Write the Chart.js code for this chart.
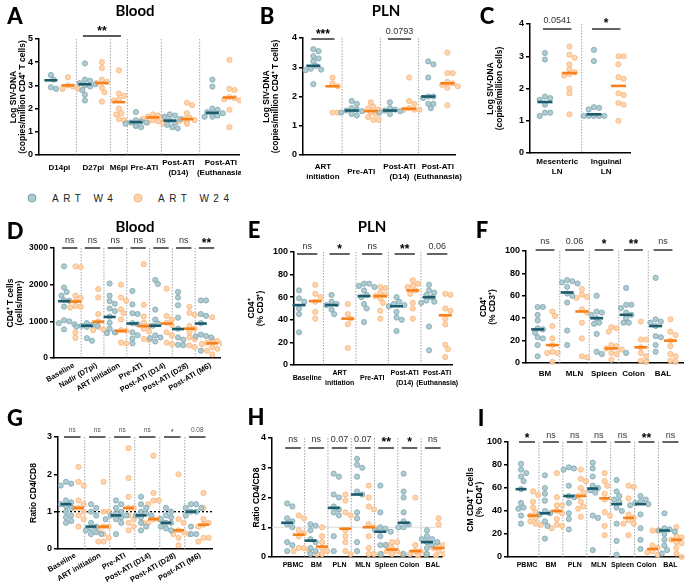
<!DOCTYPE html>
<html>
<head>
<meta charset="utf-8">
<script src="https://cdn.jsdelivr.net/npm/chart.js@4.4.1/dist/chart.umd.min.js"></script>
<style>
body { margin: 0; background: #fff; width: 685px; height: 583px; position: relative; overflow: hidden; }
canvas { position: absolute; }
.tx { position: absolute; transform: translate(-50%, -50%); white-space: nowrap; color: #000; }
.letter { font-family: Lato, sans-serif; font-weight: 900; font-size: 22px; }
.title { font-family: Lato, sans-serif; font-weight: 700; font-size: 15px; }
.leg { position: absolute; font-family: 'Liberation Sans', Arial, sans-serif; font-size: 10px; letter-spacing: 4.5px; word-spacing: 1px; color: #222; transform: translateY(-50%); }
.dot { position: absolute; width: 7px; height: 7px; border-radius: 50%; transform: translate(-50%, -50%); }
</style>
</head>
<body>
<script>
// ---------- data ----------
// A: blood SIV-DNA
const aLabels = [["D14pi"], ["D27pi"], ["M6pi"], ["Pre-ATI"], ["Post-ATI", "(D14)"], ["Post-ATI", "(Euthanasia)"]];
const aW4 = [
    [3.45, 3.25, 2.92, 2.85],
    [3.95, 3.25, 3.2, 3.1, 3.05, 3.0, 2.95, 2.8, 2.6, 2.35],
    [],
    [1.85, 1.5, 1.45, 1.4, 1.4, 1.35, 1.3, 1.25, 1.2],
    [1.75, 1.7, 1.65, 1.55, 1.5, 1.4, 1.3, 1.2, 1.15],
    [3.25, 2.95, 2.0, 1.95, 1.85, 1.8, 1.75, 1.7, 1.65, 1.65]
];
const aW24 = [
    [3.35, 3.0, 2.95, 2.85, 2.85],
    [4.0, 3.75, 3.25, 3.15, 3.1, 2.9, 2.7, 2.3],
    [3.65, 2.65, 2.55, 2.4, 2.35, 2.0, 1.8, 1.75, 1.55, 1.5],
    [1.75, 1.7, 1.65, 1.6, 1.55, 1.5, 1.45, 1.4, 1.35],
    [2.25, 2.15, 1.8, 1.6, 1.55, 1.5, 1.45, 1.4, 1.35],
    [4.1, 2.85, 2.8, 2.5, 2.45, 2.4, 2.35, 1.95, 1.2]
];
const aW4Med = [3.22, 3.05, null, 1.42, 1.48, 1.82];
const aW24Med = [3.0, 3.1, 2.28, 1.62, 1.55, 2.48];
const aSig = [[1, 2, "**"]];

// B: PLN SIV-DNA
const bLabels = [["ART", "initiation"], ["Pre-ATI"], ["Post-ATI", "(D14)"], ["Post-ATI", "(Euthanasia)"]];
const bW4 = [
    [3.62, 3.55, 3.38, 3.3, 3.2, 3.05, 2.95, 2.92, 2.9, 2.42],
    [1.85, 1.75, 1.6, 1.55, 1.52, 1.5, 1.45, 1.4, 1.35],
    [1.8, 1.6, 1.55, 1.52, 1.5, 1.45, 1.4],
    [3.2, 3.1, 2.65, 2.0, 2.0, 1.95, 1.75, 1.75, 1.6]
];
const bW24 = [
    [2.65, 2.45, 2.35, 1.45, 1.45],
    [1.8, 1.65, 1.6, 1.55, 1.45, 1.4, 1.3, 1.2, 1.2],
    [2.65, 1.85, 1.75, 1.6, 1.55, 1.55, 1.55],
    [3.5, 2.8, 2.8, 2.5, 2.45, 2.4, 2.35, 2.3, 1.7]
];
const bW4Med = [3.05, 1.52, 1.52, 2.0];
const bW24Med = [2.35, 1.5, 1.58, 2.45];
const bSig = ["***", null, "0.0793", null];

// C: LN SIV-DNA
const cLabels = [["Mesenteric", "LN"], ["Inguinal", "LN"]];
const cW4 = [
    [3.1, 2.9, 1.75, 1.7, 1.65, 1.5, 1.25, 1.25, 1.15],
    [3.2, 2.85, 1.42, 1.4, 1.35, 1.15, 1.15, 1.15, 1.15, 1.15]
];
const cW24 = [
    [3.3, 3.05, 2.95, 2.75, 2.6, 2.5, 2.45, 2.4, 2.0, 1.85, 1.2],
    [3.0, 3.0, 2.75, 2.35, 2.3, 1.85, 1.8, 1.55, 1.5, 1.0]
];
const cW4Med = [1.58, 1.2];
const cW24Med = [2.48, 2.08];
const cSig = ["0.0541", "*"];

// D: blood CD4 counts
const dLabels = [["Baseline"], ["Nadir (D7pi)"], ["ART initiation"], ["Pre-ATI"], ["Post-ATI (D14)"], ["Post-ATI (D28)"], ["Post-ATI (M6)"]];
const dW4 = [
    [2500, 1920, 1800, 1700, 1580, 1560, 1400, 1030, 1000, 950, 920, 780],
    [950, 900, 880, 880, 860, 850, 540, 470],
    [2030, 1700, 1550, 1480, 1350, 1280, 1130, 960, 800, 700, 680],
    [1830, 1460, 1220, 1200, 950, 920, 700, 620, 530, 400],
    [2130, 2020, 1320, 1050, 940, 880, 620, 560, 540, 450],
    [1800, 1650, 1440, 1100, 800, 560, 500, 360, 350],
    [1570, 1570, 1200, 1150, 950, 640, 600, 590, 560, 200]
];
const dW24 = [
    [2500, 2480, 1700, 1640, 1550, 1420, 1400, 1380, 700, 550],
    [1880, 1650, 1200, 1000, 850, 780, 760],
    [2000, 1650, 1560, 1330, 1220, 1050, 760, 740, 700, 420, 400],
    [2560, 1450, 1130, 960, 870, 800, 720, 520, 490],
    [1890, 1150, 1050, 960, 900, 700, 620, 420, 380],
    [1400, 1230, 1180, 870, 800, 700, 560, 520, 340, 300],
    [1110, 500, 460, 420, 390, 380, 300, 250, 200, 100]
];
const dW4Med = [1550, 880, 1120, 940, 880, 790, 940];
const dW24Med = [1540, 990, 740, 870, 940, 800, 400];
const dSig = ["ns", "ns", "ns", "ns", "ns", "ns", "**"];

// E: PLN CD4 %
const eLabels = [["Baseline"], ["ART", "initiation"], ["Pre-ATI"], ["Post-ATI", "(D14)"], ["Post-ATI", "(Euthanasia)"]];
const eW4 = [
    [66, 59, 56, 50, 45, 29],
    [62, 56, 54, 53, 49, 45],
    [72, 72, 70, 69, 66, 62, 60, 54, 50, 38],
    [60, 56, 54, 53, 52, 47, 42, 40, 30],
    [71, 66, 64, 62, 60, 57, 56, 55, 34, 13]
];
const eW24 = [
    [71, 63, 60, 56, 47, 41],
    [54, 45, 41, 36, 15],
    [69, 68, 64, 62, 61, 59, 55, 48, 41],
    [75, 72, 70, 69, 66, 63, 55, 50, 41],
    [63, 62, 50, 48, 41, 36, 18, 14, 7]
];
const eW4Med = [53, 53, 61, 52, 60];
const eW24Med = [56.5, 41, 61, 66, 44];
const eSig = ["ns", "*", "ns", "**", "0.06"];

// F: tissue CD4 %
const fLabels = [["BM"], ["MLN"], ["Spleen"], ["Colon"], ["BAL"]];
const fW4 = [
    [50, 50, 43, 38, 31, 30, 27, 23, 22, 16, 6],
    [74, 73, 72, 71, 68, 62, 60, 54, 29, 16],
    [60, 46, 45, 43, 40, 36, 35, 26, 10, 8],
    [67, 52, 52, 49, 45, 43, 40, 36, 36, 9],
    [76, 39, 37, 36, 33, 24, 23, 16, 10]
];
const fW24 = [
    [46, 42, 33, 22, 16, 10, 9, 9, 1],
    [66, 61, 59, 58, 48, 45, 36, 22, 6, 5],
    [32, 31, 28, 16, 15, 13, 12, 9, 8, 3],
    [37, 21, 21, 14, 9, 6, 2, 1],
    [39, 28, 25, 20, 15, 8, 6, 2, 1]
];
const fW4Med = [30, 63, 40, 43, 33];
const fW24Med = [16, 46, 13, 14, 20];
const fSig = ["ns", "0.06", "*", "**", "ns"];

// G: blood CD4/CD8 ratio
const gLabels = [["Baseline"], ["ART initiation"], ["Pre-ATI"], ["Post-ATI (D14)"], ["Post-ATI (D28)"], ["Post-ATI (M6)"]];
const gW4 = [
    [1.8, 1.75, 1.7, 1.3, 1.25, 1.2, 1.15, 1.1, 1.0, 0.9, 0.85, 0.75, 0.7],
    [1.2, 1.1, 1.0, 0.9, 0.7, 0.6, 0.55, 0.5, 0.45, 0.4, 0.4],
    [1.3, 1.2, 1.1, 1.0, 0.95, 0.9, 0.9, 0.85, 0.8, 0.8, 0.7, 0.4],
    [1.4, 1.2, 1.1, 1.0, 0.95, 0.9, 0.9, 0.85, 0.7, 0.6, 0.5],
    [1.1, 1.0, 0.9, 0.85, 0.8, 0.7, 0.7, 0.6, 0.55, 0.5],
    [1.2, 1.2, 1.1, 1.1, 1.0, 1.0, 0.9, 0.6, 0.4, 0.4]
];
const gW24 = [
    [2.2, 1.8, 1.7, 1.3, 1.2, 1.1, 1.1, 1.0, 0.9, 0.8, 0.6],
    [1.8, 1.0, 1.0, 0.6, 0.6, 0.5, 0.4, 0.3, 0.2, 0.2],
    [2.7, 1.9, 1.4, 1.1, 1.1, 0.9, 0.8, 0.7, 0.6, 0.5],
    [2.5, 1.5, 1.3, 1.3, 1.2, 0.8, 0.8, 0.7, 0.7, 0.7],
    [2.0, 0.8, 0.7, 0.5, 0.45, 0.4, 0.4, 0.3, 0.1],
    [1.5, 1.1, 0.8, 0.7, 0.65, 0.6, 0.3, 0.3, 0.2]
];
const gW4Med = [1.2, 0.6, 0.9, 0.9, 0.7, 1.0];
const gW24Med = [1.1, 0.6, 1.1, 0.8, 0.5, 0.65];
const gSig = ["ns", "ns", "ns", "ns", "*", "0.08"];

// H: tissue CD4/CD8 ratio
const hLabels = [["PBMC"], ["BM"], ["PLN"], ["MLN"], ["Spleen"], ["Colon"], ["BAL"]];
const hW4 = [
    [1.8, 1.7, 1.3, 1.2, 1.1, 1.0, 0.5, 0.4, 0.2],
    [1.1, 1.05, 0.9, 0.6, 0.5, 0.3, 0.2, 0.1],
    [2.8, 2.7, 2.1, 2.0, 1.7, 1.6, 1.5, 1.4, 0.7, 0.2],
    [3.3, 3.1, 3.0, 2.7, 2.2, 2.1, 1.5, 1.3, 0.5, 0.2],
    [2.4, 1.5, 1.0, 0.95, 0.9, 0.85, 0.7, 0.4, 0.4, 0.1],
    [2.8, 2.2, 2.0, 1.5, 1.2, 1.1, 1.0, 1.0, 0.1],
    [0.9, 0.7, 0.6, 0.6, 0.5, 0.5, 0.4, 0.3, 0.1]
];
const hW24 = [
    [1.4, 1.3, 0.9, 0.8, 0.7, 0.3, 0.3, 0.2, 0.2],
    [1.0, 0.7, 0.5, 0.3, 0.2, 0.1, 0.1],
    [2.1, 1.9, 1.5, 1.4, 0.9, 0.7, 0.5, 0.2, 0.1],
    [2.4, 2.0, 1.7, 1.6, 1.1, 1.0, 0.7, 0.3, 0.1, 0.1],
    [0.5, 0.5, 0.4, 0.3, 0.2, 0.2, 0.1, 0.1, 0.1],
    [2.0, 0.4, 0.2, 0.2, 0.1, 0.1, 0.05],
    [1.3, 1.1, 0.4, 0.4, 0.3, 0.3, 0.2, 0.1, 0.05]
];
const hW4Med = [1.15, 0.55, 1.65, 2.1, 0.85, 1.15, 0.5];
const hW24Med = [0.75, 0.35, 0.95, 1.0, 0.25, 0.2, 0.3];
const hSig = ["ns", "ns", "0.07", "0.07", "**", "*", "ns"];

// I: central memory CD4 %
const iLabels = [["PBMC"], ["BM"], ["PLN"], ["MLN"], ["Spleen"], ["Colon"], ["BAL"]];
const iW4 = [
    [81, 76, 73, 70, 66, 59, 47, 43, 42, 36, 29],
    [71, 60, 55, 49, 40, 38, 37, 31, 27, 16],
    [78, 77, 76, 62, 53, 52, 47, 38, 33, 24],
    [82, 77, 70, 62, 60, 58, 56, 36, 34, 6],
    [67, 57, 53, 50, 48, 43, 40, 29, 14, 2],
    [53, 50, 48, 47, 46, 45, 37, 25, 15, 7],
    [38, 25, 24, 23, 22, 20, 15, 10, 6, 3]
];
const iW24 = [
    [57, 54, 48, 43, 39, 36, 34, 31, 29, 28],
    [73, 52, 45, 45, 40, 38, 33, 28, 27, 25],
    [76, 68, 66, 60, 56, 53, 48, 44, 42, 35],
    [73, 66, 62, 55, 50, 39, 36, 27, 19],
    [62, 61, 51, 37, 34, 32, 29, 29, 19],
    [23, 23, 10, 8, 5, 4, 2],
    [26, 18, 17, 15, 13, 12, 8, 3, 0]
];
const iW4Med = [59, 38, 53, 59.5, 46, 46, 23];
const iW24Med = [36, 40, 53, 51, 34, 7, 15];
const iSig = ["*", "ns", "ns", "ns", "ns", "**", "ns"];

// ---------- styling ----------
const FONT = "'Liberation Sans', Arial, sans-serif";
const W4_DOT = 'rgba(166,198,206,0.9)', W4_EDGE = '#7da5af', W4_MED = '#1b5b6c';
const W24_DOT = 'rgba(254,208,164,0.9)', W24_EDGE = '#f8b47c', W24_MED = '#f7801a';
Chart.defaults.font.family = FONT;

const perGroup = s => s.map((t, g) => [g, g, t]).filter(x => x[2]);

// layout of each panel: canvas box (L,T,W,H) and plot area (l,t,r,b) in page pixels
const panels = [
    { labels: aLabels, w4: aW4, w24: aW24, m4: aW4Med, m24: aW24Med, sig: aSig,
      box: {L: 0, T: 16, W: 241, H: 169, l: 39, t: 39, r: 239, b: 155}, xmin: -0.7, pxCol: 17, gaps: [0, 0, 0, 0, 0, 0.5],
      ymax: 5, step: 1, title: ["Log SIV-DNA", "(copies/million CD4⁺ T cells)"], tpad: 8.5, labY: 13, labF: 8, medR: 6.5, sigBar: -3, sigGap: 7 },
    { labels: bLabels, w4: bW4, w24: bW24, m4: bW4Med, m24: bW24Med, sig: perGroup(bSig),
      box: {L: 258, T: 16, W: 212, H: 169, l: 303, t: 38, r: 455, b: 155}, xmin: -0.54, pxCol: 19.15,
      ymax: 4, step: 1, title: ["Log SIV-DNA", "(copies/million CD4⁺ T cells)"], tpad: 4, labY: 17, labF: 8, medR: 7, sigBar: 1, sigGap: 7 },
    { labels: cLabels, w4: cW4, w24: cW24, m4: cW4Med, m24: cW24Med, sig: perGroup(cSig),
      box: {L: 482, T: 6, W: 153, H: 179, l: 530, t: 24, r: 630, b: 153}, xmin: -0.61, pxCol: 24.5,
      ymax: 4, step: 1, title: ["Log SIV-DNA", "(copies/million cells)"], tpad: 3.5, labY: 14, labF: 8, medR: 7.5, sigBar: 5, sigGap: 8 },
    { labels: dLabels, w4: dW4, w24: dW24, m4: dW4Med, m24: dW24Med, sig: perGroup(dSig),
      box: {L: 0, T: 232, W: 222, H: 160, l: 54, t: 248, r: 220, b: 358}, xmin: -0.88, pxCol: 11.4,
      ymax: 3000, step: 1000, title: ["CD4⁺ T cells", "(cells/mm³)"], tpad: 5.5, rot: 30, labDx: 4, labDy: 7, labF: 7.5, medR: 6, sigBar: 0, sigGap: 7 },
    { labels: eLabels, w4: eW4, w24: eW24, m4: eW4Med, m24: eW24Med, sig: perGroup(eSig),
      box: {L: 242, T: 236, W: 228, H: 159, l: 294, t: 252, r: 452, b: 365}, xmin: -0.31, pxCol: 16.25,
      ymax: 100, step: 20, title: ["CD4⁺", "(% CD3⁺)"], tpad: 4.5, labY: 13, labF: 7, medR: 6.5, sigBar: 2, sigGap: 7 },
    { labels: fLabels, w4: fW4, w24: fW24, m4: fW4Med, m24: fW24Med, sig: perGroup(fSig),
      box: {L: 474, T: 236, W: 211, H: 159, l: 526, t: 251, r: 683, b: 363}, xmin: -0.79, pxCol: 14.75,
      ymax: 100, step: 20, title: ["CD4⁺", "(% CD3⁺)"], tpad: 4.5, labY: 11, labF: 8, medR: 6.5, sigBar: -1, sigGap: 8 },
    { labels: gLabels, w4: gW4, w24: gW24, m4: gW4Med, m24: gW24Med, sig: perGroup(gSig),
      box: {L: 20, T: 420, W: 194, H: 163, l: 58, t: 437, r: 212, b: 549}, xmin: -0.64, pxCol: 12.5,
      ymax: 3, step: 1, title: ["Ratio CD4/CD8"], tpad: 8.5, rot: 30, labDx: 3, labDy: 6, labF: 7.5, medR: 5.5, sigBar: 0, sigGap: 7, small: true,
      ref: {y: 1, color: '#000', dash: [2, 2], width: 1.3} },
    { labels: hLabels, w4: hW4, w24: hW24, m4: hW4Med, m24: hW24Med, sig: perGroup(hSig),
      box: {L: 248, T: 425, W: 197, H: 158, l: 272, t: 438, r: 442, b: 557}, xmin: -1.3, pxCol: 11.65,
      ymax: 4, step: 1, title: ["Ratio CD4/CD8"], tpad: 4, labY: 8, labF: 7, medR: 6, sigBar: 10, sigGap: 8,
      ref: {y: 1, color: '#dcdcdc', dash: [], width: 1} },
    { labels: iLabels, w4: iW4, w24: iW24, m4: iW4Med, m24: iW24Med, sig: perGroup(iSig),
      box: {L: 460, T: 425, W: 225, H: 158, l: 508, t: 442, r: 683, b: 557}, xmin: -1.09, pxCol: 11.95,
      ymax: 100, step: 20, title: ["CM CD4⁺ T cells", "(% CD4⁺)"], tpad: 5.5, labY: 8, labF: 7, medR: 5.5, sigBar: 0, sigGap: 6 }
];

// spread points of one column so the dots do not sit on top of each other
function swarm(vals, pxY, pxCol) {
    const d = 5.2, placed = [];
    return vals.map(v => {
        const y = v * pxY;
        let off = 0;
        for (let k = 0; k < 9; k++) {
            const o = (k % 2 ? 1 : -1) * Math.ceil(k / 2) * 2.6;
            if (placed.every(p => (p[0] - o) ** 2 + (p[1] - y) ** 2 >= d * d * 0.8)) { off = o; break; }
        }
        placed.push([off, y]);
        return off / pxCol;
    });
}

function renderPanel(p) {
    const {L, T, W, H, l, t, r, b} = p.box;
    const canvas = document.createElement('canvas');
    canvas.width = W; canvas.height = H;
    canvas.style.left = L + 'px'; canvas.style.top = T + 'px';
    canvas.style.width = W + 'px'; canvas.style.height = H + 'px';
    document.body.appendChild(canvas);

    const xmax = p.xmin + (r - l) / p.pxCol;
    const pxY = (b - t) / p.ymax;
    const slots = [];
    const d4 = [], d24 = [], m4 = [], m24 = [];
    let pos = 0;
    p.labels.forEach((lab, g) => {
        pos += (p.gaps && p.gaps[g]) || 0;
        const s = [];
        [[p.w4, p.m4, d4, m4], [p.w24, p.m24, d24, m24]].forEach(([vals, meds, dd, mm]) => {
            if (!vals[g].length) return;
            const offs = swarm(vals[g], pxY, p.pxCol);
            vals[g].forEach((v, i) => dd.push({x: pos + offs[i], y: v}));
            mm.push({x: pos, y: meds[g]});
            s.push(pos);
            pos += 1;
        });
        slots.push(s);
    });

    const deco = {
        id: 'deco',
        beforeDatasetsDraw(chart) {
            const {ctx, chartArea: ca, scales: {x, y}} = chart;
            ctx.save();
            ctx.strokeStyle = '#9a9a9a';
            ctx.lineWidth = 0.9;
            ctx.setLineDash([1.5, 1.5]);
            for (let g = 1; g < slots.length; g++) {
                const xs = x.getPixelForValue((slots[g - 1][slots[g - 1].length - 1] + slots[g][0]) / 2);
                ctx.beginPath(); ctx.moveTo(xs, ca.top); ctx.lineTo(xs, ca.bottom); ctx.stroke();
            }
            if (p.ref) {
                const yr = y.getPixelForValue(p.ref.y);
                ctx.strokeStyle = p.ref.color; ctx.lineWidth = p.ref.width; ctx.setLineDash(p.ref.dash);
                ctx.beginPath(); ctx.moveTo(ca.left, yr); ctx.lineTo(ca.right, yr); ctx.stroke();
            }
            ctx.restore();
        },
        afterDraw(chart) {
            const {ctx, chartArea: ca, scales: {x}} = chart;
            ctx.save();
            ctx.fillStyle = '#000';
            // group labels
            ctx.font = `bold ${p.labF}px ${FONT}`;
            p.labels.forEach((lab, g) => {
                const cx = x.getPixelForValue(slots[g].reduce((a, c) => a + c, 0) / slots[g].length);
                if (p.rot) {
                    ctx.save();
                    ctx.translate(cx + p.labDx, ca.bottom + p.labDy);
                    ctx.rotate(-p.rot * Math.PI / 180);
                    ctx.textAlign = 'right'; ctx.textBaseline = 'middle';
                    ctx.fillText(lab.join(' '), 0, 0);
                    ctx.restore();
                } else {
                    ctx.textAlign = 'center'; ctx.textBaseline = 'middle';
                    const y0 = ca.bottom + p.labY - (lab.length - 1) * 5;
                    lab.forEach((line, i) => ctx.fillText(line, cx, y0 + i * 10));
                }
            });
            // significance bars
            p.sig.forEach(([g0, g1, text]) => {
                const x0 = x.getPixelForValue(slots[g0][0]) - 2;
                const x1 = x.getPixelForValue(slots[g1][slots[g1].length - 1]) + 2;
                const yb = ca.top + p.sigBar;
                ctx.strokeStyle = '#222'; ctx.lineWidth = 1.4;
                ctx.beginPath(); ctx.moveTo(x0, yb); ctx.lineTo(x1, yb); ctx.stroke();
                const star = text.includes('*');
                ctx.textAlign = 'center'; ctx.textBaseline = 'middle';
                if (p.small) {
                    ctx.font = `${star ? 'bold ' : ''}6.5px ${FONT}`; ctx.fillStyle = '#555';
                    ctx.fillText(text, (x0 + x1) / 2, yb - p.sigGap + (star ? 2 : 0));
                } else if (star) {
                    ctx.font = `bold 12px ${FONT}`; ctx.fillStyle = '#000';
                    ctx.fillText(text, (x0 + x1) / 2, yb - p.sigGap + 3);
                } else {
                    ctx.font = `9px ${FONT}`; ctx.fillStyle = '#333';
                    ctx.fillText(text, (x0 + x1) / 2, yb - p.sigGap);
                }
            });
            ctx.restore();
        }
    };

    const dots = (data, fill, edge) => ({
        data: data, pointStyle: 'circle', pointRadius: 2.6, pointBackgroundColor: fill,
        pointBorderColor: edge, pointBorderWidth: 0.8, order: 2, clip: false
    });
    const meds = (data, color) => ({
        data: data, pointStyle: 'line', pointRadius: p.medR, pointBorderColor: color,
        pointBorderWidth: 2.6, order: 0, clip: false
    });

    new Chart(canvas, {
        type: 'scatter',
        data: {
            datasets: [meds(m4, W4_MED), meds(m24, W24_MED), dots(d4, W4_DOT, W4_EDGE), dots(d24, W24_DOT, W24_EDGE)]
        },
        options: {
            responsive: false,
            animation: false,
            events: [],
            layout: { autoPadding: false, padding: { left: 0, top: t - T, right: L + W - r, bottom: 0 } },
            plugins: { legend: { display: false }, tooltip: { enabled: false } },
            scales: {
                x: {
                    type: 'linear', min: p.xmin, max: xmax,
                    ticks: { display: false },
                    grid: { display: false },
                    border: { color: '#000', width: 1.5 },
                    afterFit: s => { s.height = T + H - b; }
                },
                y: {
                    min: 0, max: p.ymax,
                    ticks: { stepSize: p.step, color: '#000', padding: 2, callback: v => String(v),
                             font: { size: p.ymax > 100 ? 8.5 : 9, weight: 'bold' } },
                    grid: { drawOnChartArea: false, color: '#000', lineWidth: 1.5, tickLength: 4 },
                    border: { color: '#000', width: 1.5 },
                    title: { display: true, text: p.title, color: '#000', padding: { top: p.tpad, bottom: 0 },
                             font: { size: 8.5, weight: 'bold', lineHeight: 1.1 } },
                    afterFit: s => { s.width = l - L; }
                }
            }
        },
        plugins: [deco]
    });
}

panels.forEach(renderPanel);

// ---------- panel letters, titles, legend ----------
function addText(cls, text, x, y) {
    const el = document.createElement('div');
    el.className = 'tx ' + cls;
    el.textContent = text;
    el.style.left = x + 'px'; el.style.top = y + 'px';
    document.body.appendChild(el);
}
[["A", 15, 15], ["B", 267, 15], ["C", 487, 15], ["D", 15, 230], ["E", 254, 229], ["F", 482, 229],
 ["G", 15, 417], ["H", 256, 416], ["I", 481, 417]].forEach(([s, x, y]) => addText('letter', s, x, y));
[["Blood", 135, 10], ["PLN", 386, 10], ["Blood", 135, 226], ["PLN", 372, 226]].forEach(([s, x, y]) => addText('title', s, x, y));

[["ART W4", 32, W4_DOT, W4_EDGE], ["ART W24", 138, W24_DOT, W24_EDGE]].forEach(([s, x, fill, edge]) => {
    const d = document.createElement('div');
    d.className = 'dot';
    d.style.left = x + 'px'; d.style.top = '198px';
    d.style.background = fill; d.style.border = '1px solid ' + edge;
    document.body.appendChild(d);
    const t = document.createElement('div');
    t.className = 'leg';
    t.textContent = s;
    t.style.left = (x + 20) + 'px'; t.style.top = '198px';
    document.body.appendChild(t);
});
</script>
</body>
</html>
